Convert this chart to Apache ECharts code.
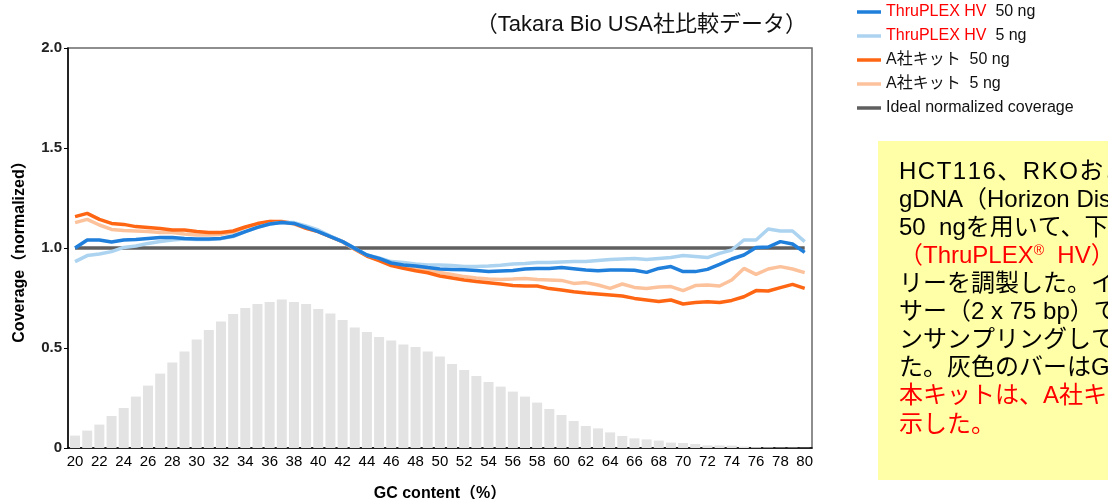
<!DOCTYPE html>
<html><head><meta charset="utf-8">
<script src="https://cdn.jsdelivr.net/npm/echarts@6/dist/echarts.min.js"></script>
<style>html,body{margin:0;padding:0;background:#fff;overflow:hidden}#c{width:1108px;height:499px;}</style>
</head><body><div id="c"></div>
<script>
const gcContent = [20,21,22,23,24,25,26,27,28,29,30,31,32,33,34,35,36,37,38,39,40,41,42,43,44,45,46,47,48,49,50,51,52,53,54,55,56,57,58,59,60,61,62,63,64,65,66,67,68,69,70,71,72,73,74,75,76,77,78,79,80];
const xTickLabels = [20,22,24,26,28,30,32,34,36,38,40,42,44,46,48,50,52,54,56,58,60,62,64,66,68,70,72,74,76,78,80];
const gcDistribution = [0.062,0.087,0.117,0.16,0.20,0.257,0.312,0.372,0.427,0.482,0.542,0.59,0.633,0.67,0.70,0.72,0.73,0.742,0.73,0.72,0.695,0.672,0.64,0.603,0.58,0.555,0.537,0.517,0.505,0.482,0.457,0.42,0.39,0.36,0.33,0.307,0.282,0.257,0.227,0.195,0.165,0.135,0.11,0.098,0.078,0.06,0.048,0.043,0.037,0.027,0.025,0.02,0.013,0.013,0.012,0.007,0.004,0.003,0.002,0.002,0.001];
const thruplex50 = [1.0,1.04,1.04,1.03,1.04,1.043,1.048,1.052,1.052,1.048,1.045,1.045,1.048,1.06,1.082,1.103,1.12,1.127,1.123,1.103,1.082,1.057,1.032,0.998,0.965,0.948,0.925,0.915,0.91,0.902,0.895,0.893,0.891,0.888,0.883,0.885,0.887,0.895,0.898,0.898,0.902,0.896,0.89,0.886,0.89,0.89,0.889,0.878,0.898,0.907,0.882,0.882,0.893,0.918,0.945,0.965,1.002,1.005,1.032,1.02,0.978];
const thruplex5 = [0.932,0.962,0.97,0.982,1.003,1.01,1.023,1.032,1.04,1.045,1.043,1.043,1.048,1.057,1.082,1.103,1.12,1.128,1.127,1.11,1.09,1.06,1.032,0.998,0.965,0.95,0.932,0.927,0.92,0.915,0.915,0.912,0.908,0.907,0.91,0.914,0.92,0.923,0.927,0.928,0.93,0.932,0.932,0.937,0.942,0.945,0.948,0.943,0.948,0.952,0.962,0.957,0.952,0.973,0.99,1.04,1.04,1.095,1.085,1.085,1.032];
const kitA50 = [1.157,1.173,1.143,1.123,1.118,1.107,1.103,1.098,1.09,1.09,1.082,1.077,1.077,1.085,1.105,1.122,1.132,1.132,1.123,1.098,1.082,1.057,1.032,0.995,0.96,0.937,0.912,0.898,0.886,0.876,0.86,0.85,0.84,0.832,0.826,0.82,0.813,0.81,0.81,0.797,0.79,0.781,0.775,0.77,0.765,0.76,0.748,0.74,0.732,0.74,0.72,0.727,0.731,0.728,0.738,0.756,0.787,0.785,0.802,0.818,0.798];
const kitA5 = [1.127,1.143,1.115,1.093,1.087,1.085,1.082,1.077,1.077,1.07,1.065,1.065,1.068,1.08,1.103,1.12,1.132,1.13,1.12,1.098,1.082,1.057,1.03,0.993,0.96,0.94,0.918,0.907,0.898,0.89,0.878,0.868,0.857,0.85,0.845,0.843,0.845,0.848,0.842,0.84,0.838,0.823,0.827,0.815,0.798,0.82,0.803,0.798,0.805,0.807,0.787,0.812,0.815,0.81,0.84,0.898,0.868,0.895,0.907,0.895,0.877];
const idealGC = [20,80];
const idealValues = [1,1];
const legendNames = ['ThruPLEX HV|50 ng','ThruPLEX HV|5 ng','A社キット|50 ng','A社キット|5 ng','Ideal normalized coverage'];
const legendRedPrefix = 'ThruPLEX HV';
const titleText = '（Takara Bio USA社比較データ）';
const xAxisName = 'GC content（%）';
const yAxisName = 'Coverage（normalized）';
const noteLines = [
  [['ks','HCT116、RKOおよびNA12878の']],
  [['k','gDNA（Horizon Discovery社）の']],
  [['k','50  ngを用いて、下記キット']],
  [['r','（ThruPLEX'],['rs','®'],['r','  HV）とA社キットでライブラ']],
  [['k','リーを調製した。イルミナ社シーケン']],
  [['k','サー（2 x 75 bp）で解析し、ダウ']],
  [['k','ンサンプリングして比較し']],
  [['k','た。灰色のバーはGC含量の分布を示す。']],
  [['r','本キットは、A社キットより均一なカバレッジを']],
  [['r','示した。']]
];

const FONT = "'Liberation Sans', Arial, 'Noto Sans CJK JP', sans-serif";
const pairs = (xs, ys) => xs.map((x, i) => [x, ys[i]]);
const chart = echarts.init(document.getElementById('c'), null, {renderer: 'canvas'});

const segText = s => s[0] === 'ks'
  ? Array.from(s[1]).map(ch => '{ks|' + ch + '}').join('')
  : '{' + s[0] + '|' + s[1] + '}';

const noteGraphics = noteLines.map((segs, i) => ({
  type: 'text', left: 899, top: 173 + i * 28.1 - 13,
  style: {
    text: segs.map(segText).join(''),
    font: '24px ' + FONT,
    rich: {
      k: {fill: '#000', fontSize: 24, fontFamily: FONT, height: 26},
      ks: {fill: '#000', fontSize: 24, fontFamily: FONT, height: 26, padding: [0, 1.5, 0, 0]},
      r: {fill: '#ff0000', fontSize: 24, fontFamily: FONT, height: 26},
      rs: {fill: '#ff0000', fontSize: 14, fontFamily: FONT, verticalAlign: 'top', height: 26, padding: [0,0,10,0]}
    }
  }
}));

const lineSeries = (name, xs, ys, color, z) => ({
  name, type: 'line', data: pairs(xs, ys), showSymbol: false, symbol: 'none',
  lineStyle: {color, width: 3.5}, itemStyle: {color}, z, animation: false
});

chart.setOption({
  animation: false,
  backgroundColor: '#fff',
  textStyle: {fontFamily: FONT},
  grid: {left: 68, right: 296, top: 48, bottom: 51, outerBoundsMode: 'none', containLabel: false,
    show: true, borderColor: '#6a6a6a', borderWidth: 1.5, backgroundColor: 'transparent'},
  legend: {
    orient: 'vertical', left: 852, top: -3, itemWidth: 24, itemHeight: 3.5, itemGap: 4,
    icon: 'rect', data: legendNames,
    formatter: n => { const p = n.split('|'); return p.length > 1 ? (p[0] === legendRedPrefix ? '{r|' : '{k|') + p[0] + '}{k|  ' + p[1] + '}' : '{k|' + p[0] + '}'; },
    textStyle: {fontSize: 16, lineHeight: 20, fontFamily: FONT, color: '#000',
      rich: {r: {color: '#ff0000', fontSize: 16, fontFamily: FONT}, k: {color: '#111', fontSize: 16, fontFamily: FONT}}}
  },
  xAxis: {
    type: 'value', min: 19.42, max: 80.6,
    name: xAxisName, nameLocation: 'middle', nameGap: 38,
    nameTextStyle: {fontSize: 16, fontWeight: 'bold', color: '#000', fontFamily: FONT},
    axisLine: {show: true, lineStyle: {color: '#000', width: 1.5}},
    axisTick: {show: false},
    splitLine: {show: false},
    axisLabel: {customValues: xTickLabels, fontSize: 15, color: '#000', margin: 6, fontFamily: FONT}
  },
  yAxis: {
    type: 'value', min: 0, max: 2, interval: 0.5,
    name: yAxisName, nameLocation: 'middle', nameGap: 40,
    nameTextStyle: {fontSize: 16, fontWeight: 'bold', color: '#000', fontFamily: FONT},
    axisLine: {show: true, lineStyle: {color: '#000', width: 1.5}},
    axisTick: {show: true, length: 4, lineStyle: {color: '#000', width: 1}},
    splitLine: {show: false},
    axisLabel: {fontSize: 15, fontWeight: 'bold', color: '#222', margin: 6, fontFamily: FONT,
      formatter: v => v === 0 ? '0' : v.toFixed(1)}
  },
  series: [
    {name: 'GC', type: 'bar', data: pairs(gcContent, gcDistribution), barWidth: 10,
      itemStyle: {color: '#e3e3e3'}, z: 1, silent: true},
    lineSeries(legendNames[4], idealGC, idealValues, '#5f5f5f', 2),
    lineSeries(legendNames[3], gcContent, kitA5, '#fcc29c', 3),
    lineSeries(legendNames[2], gcContent, kitA50, '#ff6614', 4),
    lineSeries(legendNames[1], gcContent, thruplex5, '#acd3f0', 5),
    lineSeries(legendNames[0], gcContent, thruplex50, '#1f7fdb', 6)
  ],
  graphic: [
    {type: 'text', right: 1108 - 807, top: 14, style: {text: titleText, font: '22px ' + FONT, fill: '#111'}},
    {type: 'rect', left: 878, top: 141, shape: {width: 240, height: 339}, style: {fill: '#ffffa8'}, z: 0},
    ...noteGraphics
  ]
});
</script>
</body></html>
